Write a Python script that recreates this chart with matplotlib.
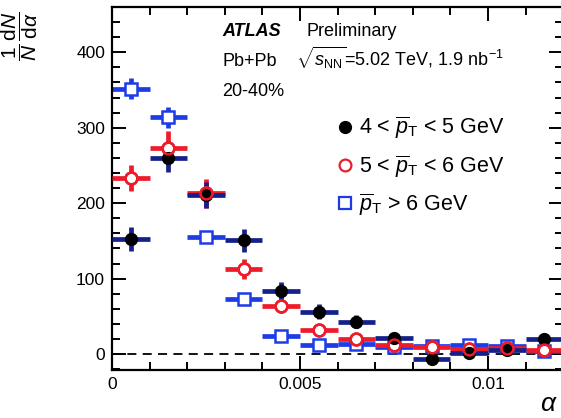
import matplotlib
matplotlib.use("Agg")
import matplotlib.pyplot as plt
from matplotlib.lines import Line2D
from matplotlib.ticker import MultipleLocator
import numpy as np

plt.rcParams['font.family'] = ['Liberation Sans', 'DejaVu Sans']
plt.rcParams['mathtext.fontset'] = 'custom'
plt.rcParams['mathtext.rm'] = 'Liberation Sans'
plt.rcParams['mathtext.it'] = 'Liberation Sans:italic'
plt.rcParams['mathtext.bf'] = 'Liberation Sans:bold'

# ---- data ----
alpha_centers = [0.0005, 0.0015, 0.0025, 0.0035, 0.0045, 0.0055,
                 0.0065, 0.0075, 0.0085, 0.0095, 0.0105, 0.0115]
alpha_halfwidth = 0.0005

pt45_vals = [153, 260, 211, 151, 84, 56, 43, 21, -6, 1, 6, 20]
pt45_errs = [16, 19, 17, 15, 12, 10, 9, 7, 6, 6, 6, 6]

pt56_vals = [233, 273, 213, 113, 64, 32, 20, 12, 9, 7, 8, 5]
pt56_errs = [17, 23, 19, 13, 10, 8, 6, 5, 4, 4, 4, 4]

pt6_vals = [352, 314, 155, 73, 24, 12, 14, 10, 11, 12, 11, 4]
pt6_errs = [14, 14, 7, 6, 5, 4, 4, 4, 4, 4, 4, 4]

labels = [r'4 < $\overline{p}_{\mathrm{T}}$ < 5 GeV',
          r'5 < $\overline{p}_{\mathrm{T}}$ < 6 GeV',
          r'$\overline{p}_{\mathrm{T}}$ > 6 GeV']

navy = '#16208a'
red = '#ec1c2a'
blue = '#1e3ce6'

W, H = 561, 418
fig = plt.figure(figsize=(W / 100, H / 100), dpi=100)
x0, x1 = 112, 563.2
y0, y1 = 370, 7
ax = fig.add_axes([x0 / W, (H - y0) / H, (x1 - x0) / W, (y0 - y1) / H])

x = np.array(alpha_centers)
elw = 3.4
ms = 8.5

# error bars
ax.errorbar(x, pt6_vals, xerr=alpha_halfwidth, yerr=pt6_errs, fmt='none',
            ecolor=blue, elinewidth=elw, capsize=0, zorder=2)
ax.errorbar(x, pt56_vals, xerr=alpha_halfwidth, yerr=pt56_errs, fmt='none',
            ecolor=red, elinewidth=elw, capsize=0, zorder=3)
ax.errorbar(x, pt45_vals, xerr=alpha_halfwidth, yerr=pt45_errs, fmt='none',
            ecolor=navy, elinewidth=elw, capsize=0, zorder=4)

# markers
ax.plot(x, pt6_vals, ls='none', marker='s', ms=ms, mfc='white', mec=blue,
        mew=1.8, zorder=5)
ax.plot(x, pt56_vals, ls='none', marker='o', ms=ms, mfc='white', mec=red,
        mew=1.8, zorder=6)
ax.plot(x, pt45_vals, ls='none', marker='o', ms=ms, mfc='black', mec='black',
        mew=1.0, zorder=7)
ax.plot(x, pt56_vals, ls='none', marker='o', ms=ms, mfc='none', mec=red,
        mew=1.8, zorder=8)

ax.axhline(0, color='black', ls=(0, (5, 3.5)), lw=1.3, zorder=1)

ax.set_xlim(0, 0.012)
ax.set_ylim(-21, 460)
ax.xaxis.set_major_locator(MultipleLocator(0.005))
ax.xaxis.set_minor_locator(MultipleLocator(0.001))
ax.yaxis.set_major_locator(MultipleLocator(100))
ax.yaxis.set_minor_locator(MultipleLocator(20))
ax.set_xticks([0, 0.005, 0.01])
ax.set_xticklabels(['0', '0.005', '0.01'])
ax.tick_params(which='both', direction='in', top=True, right=True,
               width=1.4, labelsize=12.5, colors='black')
ax.tick_params(which='major', length=10, pad=5)
ax.tick_params(which='minor', length=5.5)
for s in ax.spines.values():
    s.set_linewidth(1.6)

# texts
def px(xp, yp):
    return xp / W, (H - yp) / H

fig.text(*px(222, 36), 'ATLAS', fontsize=13, fontweight='bold',
         fontstyle='italic', va='baseline')
fig.text(*px(307, 36), 'Preliminary', fontsize=13, va='baseline')
fig.text(*px(222, 66), 'Pb+Pb', fontsize=13, va='baseline')
fig.text(*px(296, 66), r'$\sqrt{s_{\mathrm{NN}}}$=5.02 TeV, 1.9 nb$^{\mathrm{-1}}$',
         fontsize=13, va='baseline')
fig.text(*px(222, 96), '20-40%', fontsize=13, va='baseline')

handles = [
    Line2D([], [], ls='none', marker='o', ms=8.5, mfc='black', mec='black'),
    Line2D([], [], ls='none', marker='o', ms=8.5, mfc='white', mec=red, mew=1.6),
    Line2D([], [], ls='none', marker='s', ms=8, mfc='white', mec=blue, mew=1.6),
]
leg = fig.legend(handles, labels, loc='upper left',
                 bbox_to_anchor=px(336, 115), frameon=False, fontsize=15.5,
                 handlelength=0.8, handletextpad=0.25, labelspacing=0.55,
                 borderpad=0, borderaxespad=0)

# axis labels
fig.text(*px(20, 36), r'$\dfrac{1}{N}\,\dfrac{\mathrm{d}N}{\mathrm{d}\alpha}$',
         fontsize=15, rotation=90, ha='center', va='center')
fig.text(*px(549, 416), r'$\alpha$', fontsize=19, ha='center', va='bottom')

fig.savefig('out.png', dpi=100)
